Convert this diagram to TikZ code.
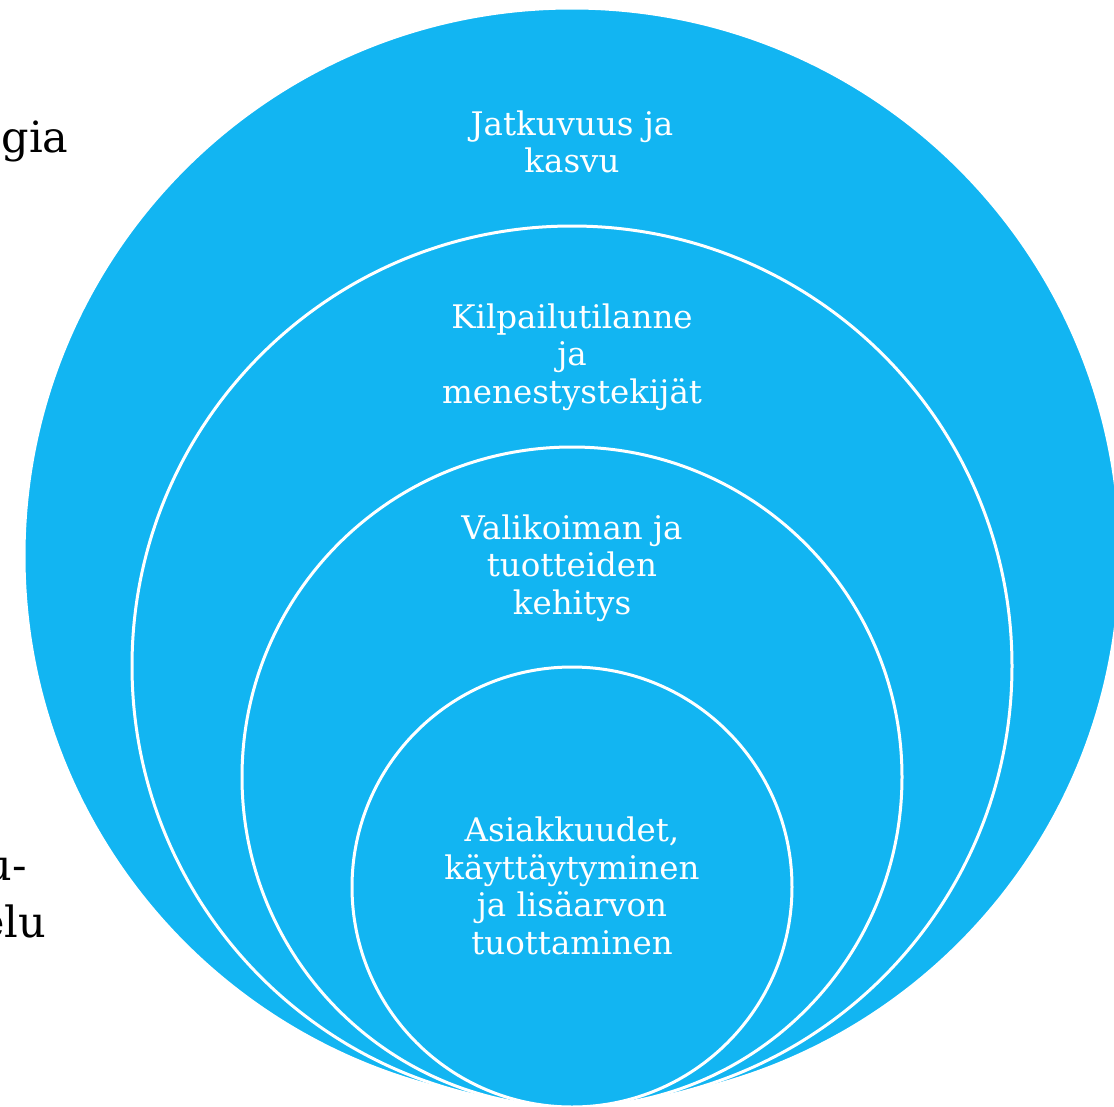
\documentclass[tikz,border=0pt]{standalone}
\usepackage{fontspec}
\setmainfont{DejaVu Serif}
\definecolor{ringblue}{RGB}{18,181,242}

\begin{document}
\begin{tikzpicture}[x=1pt,y=-1pt,
    ring/.style={fill=ringblue, draw=white, line width=3pt},
    ringtext/.style={text=white, align=center, font=\fontsize{32.5}{37.5}\selectfont},
    sidetext/.style={text=black, anchor=base west, font=\fontsize{43}{57}\selectfont}]
    \useasboundingbox (0,0) rectangle (1114,1106);
    \clip (0,0) rectangle (1114,1106);
    % Rings, all touching at the bottom
    \foreach \cy/\r in {556/548, 666/440, 777/330, 887/220} {
        \draw[ring] (572,\cy) circle[radius=\r];
    }
    % Ring labels
    \node[ringtext] (growth) at (572,142) {Jatkuvuus ja\\kasvu};
    \node[ringtext] (compet) at (572,357) {Kilpailutilanne\\ja\\menestystekijät};
    \node[ringtext] (range) at (572,568) {Valikoiman ja\\tuotteiden\\kehitys};
    \node[ringtext] (customer) at (572,886) {Asiakkuudet,\\käyttäytyminen\\ja lisäarvon\\tuottaminen};
    % Text cut at the left edge
    \node[sidetext] (strat) at (-2,152) {gia};
    \node[sidetext] (plan1) at (-19,880) {u-};
    \node[sidetext] (plan2) at (-24,937) {elu};
\end{tikzpicture}
\end{document}
